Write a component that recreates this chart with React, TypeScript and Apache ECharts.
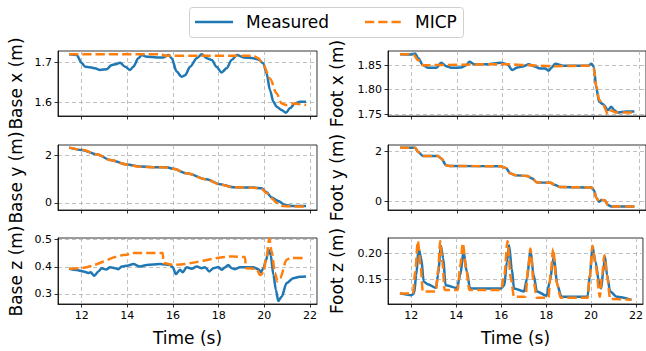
import React, { useEffect, useRef } from "react";
import * as echarts from "echarts";

// ---------- data ----------
const timeTicks = [12, 14, 16, 18, 20, 22];
const baseXTicks = [1.6, 1.7];
const footXTicks = [1.75, 1.8, 1.85];
const baseYTicks = [0, 2];
const footYTicks = [0, 2];
const baseZTicks = [0.3, 0.4, 0.5];
const footZTicks = [0.15, 0.2];

const baseXMeasured = [
  [11.45, 1.72], [11.78, 1.718], [12.0, 1.698], [12.15, 1.689], [12.36, 1.688], [12.58, 1.685],
  [12.8, 1.681], [13.1, 1.683], [13.3, 1.693], [13.46, 1.695], [13.68, 1.699], [13.9, 1.689],
  [14.12, 1.681], [14.26, 1.689], [14.48, 1.71], [14.63, 1.718], [14.85, 1.714], [15.3, 1.712],
  [15.58, 1.712], [15.8, 1.718], [15.94, 1.71], [16.16, 1.677], [16.38, 1.664], [16.53, 1.668],
  [16.75, 1.689], [17.04, 1.71], [17.26, 1.72], [17.48, 1.71], [17.7, 1.706], [17.9, 1.689],
  [18.13, 1.675], [18.35, 1.685], [18.57, 1.706], [18.8, 1.718], [19.1, 1.712], [19.52, 1.71],
  [19.74, 1.707], [19.96, 1.697], [20.1, 1.673], [20.25, 1.631], [20.4, 1.602], [20.54, 1.59],
  [20.76, 1.582], [20.95, 1.575], [21.12, 1.586], [21.34, 1.598], [21.56, 1.602], [21.83, 1.602],
];
const baseXMICP = [
  [11.45, 1.72], [15.43, 1.72], [15.72, 1.716], [19.52, 1.716], [19.74, 1.71], [19.96, 1.693],
  [20.25, 1.66], [20.54, 1.623], [20.76, 1.598], [20.98, 1.594], [21.27, 1.598], [21.83, 1.594],
];

const footXMeasured = [
  [11.49, 1.8724], [12.0, 1.872], [12.15, 1.874], [12.29, 1.864], [12.5, 1.85], [12.73, 1.8446],
  [13.09, 1.8446], [13.3, 1.855], [13.52, 1.848], [13.74, 1.8446], [14.17, 1.845], [14.4, 1.85],
  [14.54, 1.857], [14.76, 1.852], [15.33, 1.852], [15.91, 1.855], [16.2, 1.852], [16.43, 1.84],
  [16.65, 1.845], [16.94, 1.848], [17.15, 1.852], [17.37, 1.848], [17.66, 1.843], [17.88, 1.843],
  [18.02, 1.8384], [18.16, 1.845], [18.31, 1.853], [18.67, 1.849], [19.55, 1.849], [19.77, 1.849],
  [19.91, 1.853], [20.01, 1.847], [20.13, 1.802], [20.25, 1.775], [20.42, 1.77], [20.64, 1.758],
  [20.78, 1.765], [20.93, 1.757], [21.07, 1.753], [21.43, 1.755], [21.8, 1.755],
];
const footXMICP = [
  [11.49, 1.8724], [12.07, 1.872], [12.29, 1.86], [12.5, 1.85], [15.91, 1.852], [16.2, 1.852],
  [17.07, 1.85], [18.23, 1.848], [19.84, 1.849], [20.01, 1.843], [20.13, 1.806], [20.25, 1.779],
  [20.42, 1.768], [20.64, 1.75], [20.78, 1.757], [21.0, 1.753], [21.8, 1.753],
];

const baseYMeasured = [
  [11.45, 2.34], [12.0, 2.24], [12.66, 2.06], [13.24, 1.82], [13.97, 1.63], [14.55, 1.54],
  [15.13, 1.51], [15.72, 1.51], [16.01, 1.44], [16.6, 1.25], [17.47, 1.0], [18.06, 0.79],
  [18.64, 0.66], [19.52, 0.65], [19.88, 0.62], [20.1, 0.45], [20.32, 0.23], [20.61, 0.085],
  [20.9, -0.085], [21.27, -0.13], [21.83, -0.13],
];
const baseYMICP = [
  [11.45, 2.34], [12.0, 2.25], [12.66, 2.06], [13.24, 1.82], [13.97, 1.62], [14.55, 1.53],
  [15.13, 1.51], [15.72, 1.5], [16.01, 1.44], [16.6, 1.25], [17.47, 0.99], [18.06, 0.78],
  [18.64, 0.66], [19.52, 0.64], [19.88, 0.6], [20.1, 0.42], [20.32, 0.2], [20.55, 0.0],
  [20.8, -0.13], [21.27, -0.15], [21.83, -0.15],
];

const footYMeasured = [
  [11.49, 2.13], [12.15, 2.13], [12.29, 1.96], [12.5, 1.8], [13.16, 1.8], [13.3, 1.7],
  [13.52, 1.43], [13.67, 1.4], [15.92, 1.39], [16.14, 1.32], [16.35, 1.1], [16.57, 1.03],
  [17.08, 1.0], [17.3, 0.9], [17.52, 0.74], [18.1, 0.73], [18.31, 0.64], [18.53, 0.56],
  [19.91, 0.54], [20.01, 0.44], [20.13, 0.13], [20.24, -0.03], [20.35, 0.04], [20.49, 0.03],
  [20.64, -0.16], [20.78, -0.22], [21.8, -0.22],
];
const footYMICP = [
  [11.49, 2.13], [12.15, 2.13], [12.29, 1.96], [12.5, 1.8], [13.16, 1.8], [13.3, 1.7],
  [13.52, 1.43], [13.67, 1.4], [15.92, 1.39], [16.14, 1.32], [16.35, 1.1], [16.57, 1.03],
  [17.08, 1.0], [17.3, 0.9], [17.52, 0.74], [18.1, 0.73], [18.31, 0.64], [18.53, 0.56],
  [19.91, 0.54], [20.01, 0.44], [20.13, 0.13], [20.24, -0.03], [20.35, 0.04], [20.49, 0.03],
  [20.64, -0.16], [20.78, -0.22], [21.8, -0.22],
];

const baseZMeasured = [
  [11.45, 0.393], [11.78, 0.388], [12.07, 0.383], [12.29, 0.377], [12.39, 0.38], [12.55, 0.367],
  [12.73, 0.383], [12.88, 0.395], [13.07, 0.39], [13.24, 0.398], [13.46, 0.395], [13.6, 0.391],
  [13.75, 0.401], [14.04, 0.405], [14.26, 0.41], [14.55, 0.401], [14.85, 0.407], [15.43, 0.41],
  [15.87, 0.407], [15.99, 0.398], [16.12, 0.373], [16.31, 0.389], [16.42, 0.38], [16.6, 0.398],
  [16.82, 0.393], [17.04, 0.401], [17.26, 0.395], [17.4, 0.398], [17.59, 0.383], [17.77, 0.395],
  [17.99, 0.399], [18.13, 0.389], [18.28, 0.398], [18.42, 0.407], [18.57, 0.395], [18.72, 0.391],
  [18.93, 0.398], [19.52, 0.398], [19.74, 0.391], [19.85, 0.38], [19.96, 0.395], [20.07, 0.422],
  [20.19, 0.463], [20.28, 0.444], [20.4, 0.37], [20.51, 0.315], [20.61, 0.274], [20.76, 0.29],
  [20.98, 0.34], [21.27, 0.358], [21.56, 0.363], [21.83, 0.364],
];
const baseZMICP = [
  [11.45, 0.393], [11.93, 0.395], [13.97, 0.444], [14.19, 0.451], [15.55, 0.451], [15.58, 0.414],
  [16.01, 0.407], [18.64, 0.438], [19.15, 0.436], [19.2, 0.395], [19.66, 0.393], [19.81, 0.37],
  [19.96, 0.377], [20.1, 0.438], [20.22, 0.504], [20.32, 0.457], [20.47, 0.377], [20.58, 0.346],
  [20.69, 0.358], [20.98, 0.426], [21.12, 0.432], [21.83, 0.432],
];

const footZMeasured = [
  [11.49, 0.1224], [12.0, 0.119], [12.12, 0.122], [12.22, 0.158], [12.32, 0.209], [12.44, 0.19],
  [12.55, 0.145], [12.73, 0.14], [13.09, 0.133], [13.19, 0.158], [13.31, 0.214], [13.42, 0.19],
  [13.52, 0.138], [14.03, 0.133], [14.18, 0.158], [14.32, 0.203], [14.47, 0.164], [14.61, 0.132],
  [15.99, 0.132], [16.14, 0.138], [16.25, 0.183], [16.35, 0.215], [16.47, 0.17], [16.57, 0.132],
  [17.01, 0.126], [17.15, 0.151], [17.3, 0.206], [17.44, 0.158], [17.59, 0.126], [18.02, 0.118],
  [18.16, 0.145], [18.34, 0.193], [18.5, 0.138], [18.68, 0.116], [19.84, 0.116], [19.95, 0.158],
  [20.06, 0.212], [20.2, 0.183], [20.35, 0.145], [20.45, 0.132], [20.54, 0.164], [20.62, 0.193],
  [20.71, 0.158], [20.85, 0.126], [21.14, 0.116], [21.8, 0.11],
];
const footZMICP = [
  [11.49, 0.1224], [12.07, 0.1224], [12.17, 0.164], [12.29, 0.223], [12.41, 0.177], [12.51, 0.126],
  [13.09, 0.126], [13.2, 0.17], [13.28, 0.223], [13.38, 0.183], [13.48, 0.129], [14.06, 0.129],
  [14.18, 0.177], [14.29, 0.219], [14.44, 0.17], [14.58, 0.129], [15.99, 0.129], [16.14, 0.158],
  [16.28, 0.223], [16.43, 0.151], [16.57, 0.116], [17.08, 0.116], [17.2, 0.17], [17.3, 0.209],
  [17.44, 0.145], [17.59, 0.114], [18.1, 0.114], [18.21, 0.164], [18.31, 0.209], [18.46, 0.145],
  [18.65, 0.114], [19.84, 0.114], [19.95, 0.158], [20.06, 0.214], [20.2, 0.177], [20.39, 0.116],
  [20.49, 0.158], [20.59, 0.196], [20.71, 0.158], [20.85, 0.1115], [21.8, 0.11],
];

// ---------- layout ----------
const W = 646;
const H = 351;
const FONT = "DejaVu Sans";
const BLUE = "#1f77b4";
const ORANGE = "#ff7f0e";
const colLeft = [58, 388];
const colWidth = [259, 258];
const rowTop = [51, 145, 238];
const rowHeight = [65, 65, 66];

const panels = [
  { name: "Base x (m)", meas: baseXMeasured, micp: baseXMICP, ticks: baseXTicks, min: 1.567, max: 1.728, dec: 1, col: 0, row: 0 },
  { name: "Foot x (m)", meas: footXMeasured, micp: footXMICP, ticks: footXTicks, min: 1.746, max: 1.879, dec: 2, col: 1, row: 0 },
  { name: "Base y (m)", meas: baseYMeasured, micp: baseYMICP, ticks: baseYTicks, min: -0.3, max: 2.45, dec: 0, col: 0, row: 1 },
  { name: "Foot y (m)", meas: footYMeasured, micp: footYMICP, ticks: footYTicks, min: -0.36, max: 2.24, dec: 0, col: 1, row: 1 },
  { name: "Base z (m)", meas: baseZMeasured, micp: baseZMICP, ticks: baseZTicks, min: 0.263, max: 0.506, dec: 1, col: 0, row: 2 },
  { name: "Foot z (m)", meas: footZMeasured, micp: footZMICP, ticks: footZTicks, min: 0.102, max: 0.229, dec: 2, col: 1, row: 2 },
];

function buildOption() {
  const grid: any[] = [];
  const xAxis: any[] = [];
  const yAxis: any[] = [];
  const series: any[] = [];
  const splitLine = { show: true, lineStyle: { color: "#b0b0b0", width: 0.8, type: [4, 3] } };
  panels.forEach((p, i) => {
    grid.push({
      left: colLeft[p.col], top: rowTop[p.row], width: colWidth[p.col], height: rowHeight[p.row],
      show: true, borderColor: "#000", borderWidth: 0.8, backgroundColor: "#fff",
    });
    const bottom = p.row === 2;
    xAxis.push({
      type: "value", gridIndex: i, min: 10.96, max: 22.31,
      axisLine: { show: true, onZero: false, lineStyle: { color: "#000", width: 0.8 } },
      axisTick: { show: true, length: 3.5, lineStyle: { color: "#000", width: 0.8 }, customValues: timeTicks },
      axisLabel: { show: bottom, customValues: timeTicks, margin: 6, color: "#000", fontSize: 11, fontFamily: FONT, formatter: (v: number) => String(Math.round(v)) },
      splitLine,
      name: bottom ? "Time (s)" : "", nameLocation: "middle", nameGap: 25,
      nameTextStyle: { fontSize: 17, fontFamily: FONT, color: "#000" },
    });
    yAxis.push({
      type: "value", gridIndex: i, min: p.min, max: p.max,
      axisLine: { show: true, onZero: false, lineStyle: { color: "#000", width: 0.8 } },
      axisTick: { show: true, length: 3.5, lineStyle: { color: "#000", width: 0.8 }, customValues: p.ticks },
      axisLabel: { show: true, customValues: p.ticks, margin: 6, color: "#000", fontSize: 11, fontFamily: FONT, formatter: ((d: number) => (v: number) => v.toFixed(d))(p.dec) },
      splitLine,
      name: p.name, nameLocation: "middle", nameRotate: 90, nameGap: p.col === 0 ? 34 : 43,
      nameTextStyle: { fontSize: 17, fontFamily: FONT, color: "#000" },
    });
    series.push({
      type: "line", name: "Measured", xAxisIndex: i, yAxisIndex: i, data: p.meas,
      showSymbol: false, symbol: "none", smooth: 0.3, smoothMonotone: "x",
      lineStyle: { color: BLUE, width: 2.5 }, z: 2,
    });
    series.push({
      type: "line", name: "MICP", xAxisIndex: i, yAxisIndex: i, data: p.micp,
      showSymbol: false, symbol: "none", smooth: 0.3, smoothMonotone: "x",
      lineStyle: { color: ORANGE, width: 2.5, type: [9.25, 4] }, z: 3,
    });
  });

  const legendY = 22;
  const graphic = [
    { type: "rect", shape: { x: 189.5, y: 7.5, width: 274, height: 30, r: 3 }, style: { fill: "rgba(255,255,255,0.8)", stroke: "#d0d0d0", lineWidth: 1 }, z: 10 },
    { type: "line", shape: { x1: 195, y1: legendY, x2: 233, y2: legendY }, style: { stroke: BLUE, lineWidth: 2.5 }, z: 11 },
    { type: "text", x: 246, y: legendY, style: { text: "Measured", fontSize: 17, fontFamily: FONT, fill: "#000", verticalAlign: "middle", align: "left" }, z: 11 },
    { type: "line", shape: { x1: 365, y1: legendY, x2: 401, y2: legendY }, style: { stroke: ORANGE, lineWidth: 2.5, lineDash: [9.25, 4] }, z: 11 },
    { type: "text", x: 415, y: legendY, style: { text: "MICP", fontSize: 17, fontFamily: FONT, fill: "#000", verticalAlign: "middle", align: "left" }, z: 11 },
  ];

  return { animation: false, backgroundColor: "#fff", grid, xAxis, yAxis, series, graphic };
}

export default function App() {
  const ref = useRef<HTMLDivElement>(null);
  useEffect(() => {
    if (!ref.current) return;
    const chart = echarts.init(ref.current, undefined, { renderer: "svg", width: W, height: H });
    chart.setOption(buildOption() as any);
    return () => chart.dispose();
  }, []);
  return <div ref={ref} style={{ position: "fixed", left: 0, top: 0, width: W, height: H }} />;
}
